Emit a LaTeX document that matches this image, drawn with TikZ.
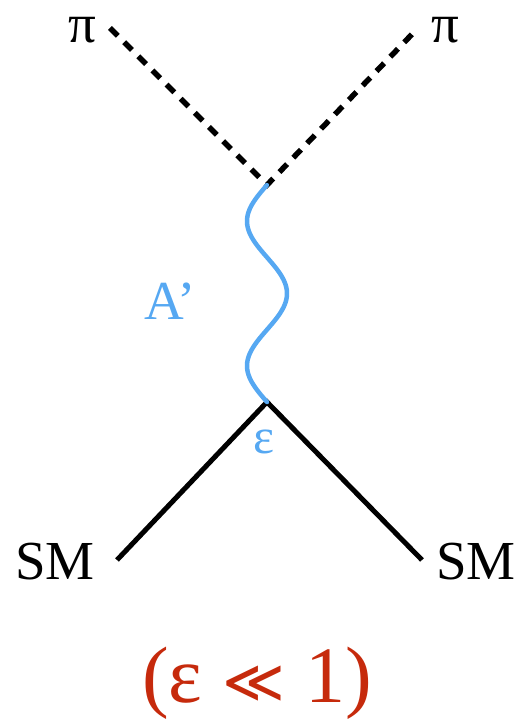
\documentclass[tikz,border=0pt]{standalone}
\usepackage{fontspec}
\setmainfont{Liberation Serif}
\newfontfamily\symfont{DejaVu Sans}
\usepackage{tikz}
\definecolor{Sky}{HTML}{56A8F2}
\definecolor{Brick}{HTML}{C62A0C}
\definecolor{Ink}{HTML}{000000}

\begin{document}
\begin{tikzpicture}[x=1pt,y=1pt]
        \useasboundingbox (0,0) rectangle (529,721);
        % vertices and free ends
        \coordinate (top) at (267,536);
        \coordinate (bot) at (267,319);
        \coordinate (pl) at (110,693);
        \coordinate (pr) at (418,693);
        \coordinate (sl) at (117,161);
        \coordinate (sr) at (422,161);
        \draw[line width=5.5pt,Ink,dash pattern=on 11pt off 9pt] (pl)--(top)--(pr);
        \draw[line width=5pt,Ink] (sl)--(bot)--(sr);
        \draw[line width=4.5pt,Sky,line cap=round] plot[domain=0:1,samples=90,smooth] ({267-20*sin(540*\x)},{319+217*\x});
        \foreach \n/\x/\y/\lab in {pil/82/678/π,pir/445/678/π,sml/55/141/SM,smr/476/141/SM}{
          \node[font=\fontsize{55}{60}\selectfont,text=Ink,inner sep=0,anchor=base] (\n) at (\x,\y) {\lab};
        }
        \node[font=\fontsize{55}{60}\selectfont,text=Sky,inner sep=0,anchor=base] (aprime) at (170,401) {A’};
        \node[font=\fontsize{50}{60}\selectfont,text=Sky,inner sep=0,anchor=base] (eps) at (264,267) {ε};
        \node[font=\fontsize{80}{90}\selectfont,text=Brick,inner sep=0,anchor=base] (cond) at (257,19) {(ε {\symfont\fontsize{60}{70}\selectfont ≪} 1)};
      \end{tikzpicture}
\end{document}
